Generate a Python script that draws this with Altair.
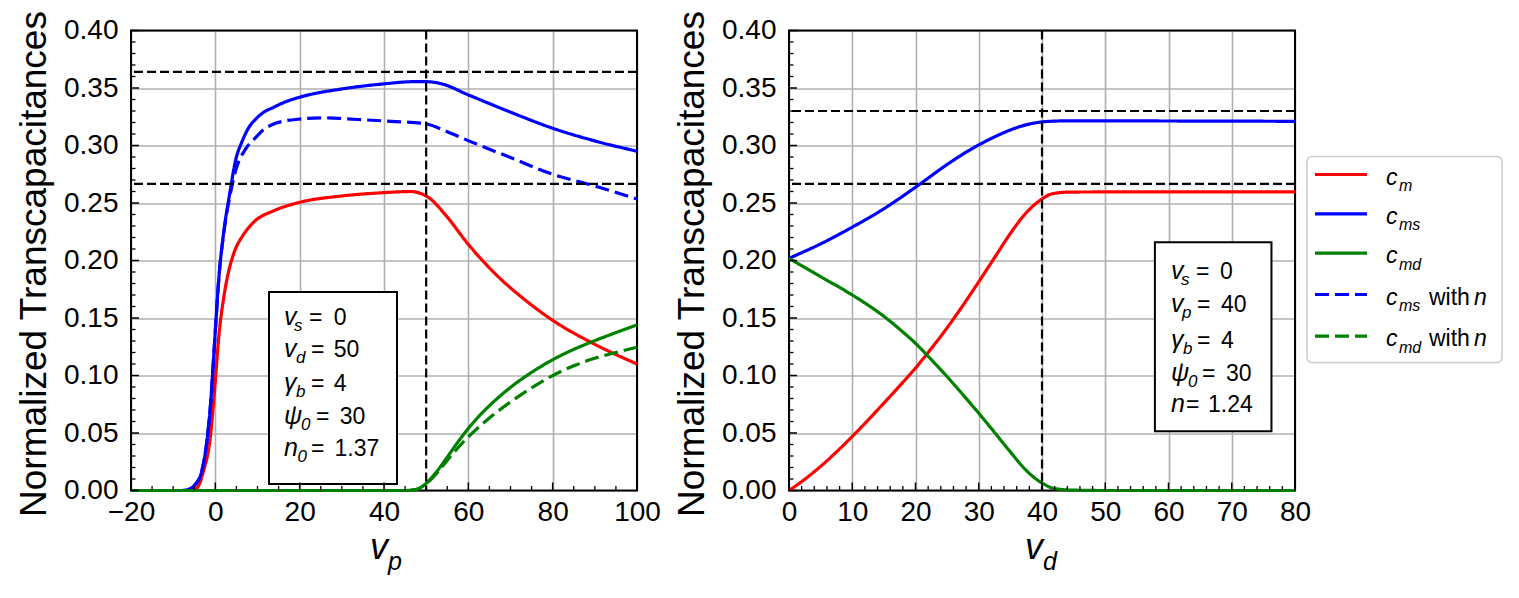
import altair as alt
import pandas as pd

# ---------------- values ----------------
SERIES = ["cm", "cms", "cmd", "cms_n", "cmd_n"]
COLORS = ["#ff0000", "#0000ff", "#008000", "#0000ff", "#008000"]
DASHES = [[1, 0], [1, 0], [1, 0], [14, 6], [14, 6]]

# left panel (x = v_p)
L_cm_x = [-20, -6, -4.4, -2.8, -1.2, 0, 0.8, 2, 3, 4, 5, 6.4, 8, 9.6, 13.7, 20, 29.7, 40, 46.5, 48.1, 50.5, 54.5, 60, 66.5, 73.7, 80, 89.8, 100]
L_cm_y = [0, 0, 0.002, 0.017, 0.046, 0.0955, 0.133, 0.168, 0.188, 0.202, 0.212, 0.221, 0.229, 0.235, 0.243, 0.2506, 0.256, 0.259, 0.260, 0.259, 0.255, 0.240, 0.214, 0.188, 0.165, 0.148, 0.1275, 0.110]
L_cms_x = [-20, -8, -6.4, -4.8, -3.2, -2.0, -1.2, 0, 0.8, 2, 3.4, 4.8, 6.4, 8, 9.6, 11.5, 13.7, 16, 20, 29.7, 40, 47, 50, 53.7, 60, 70, 80, 90, 100]
L_cms_y = [0, 0, 0.001, 0.005, 0.017, 0.043, 0.072, 0.139, 0.183, 0.225, 0.258, 0.287, 0.304, 0.316, 0.323, 0.329, 0.333, 0.337, 0.342, 0.349, 0.3536, 0.3555, 0.3555, 0.3536, 0.344, 0.329, 0.315, 0.304, 0.295]
L_cmd_x = [-20, 45, 47.5, 50, 52.5, 55, 57.5, 60, 62.5, 65, 70, 75, 80, 85, 90, 95, 100]
L_cmd_y = [0, 0, 0.0008, 0.0062, 0.0165, 0.029, 0.042, 0.054, 0.0645, 0.0737, 0.0897, 0.1027, 0.1137, 0.1227, 0.1303, 0.1373, 0.144]
L_cms_n_x = [-20, -8, -6.4, -4.8, -3.2, -2.0, -1.2, 0, 0.8, 2, 3.4, 4.8, 7.2, 9.6, 11.5, 13.7, 16, 20, 25.7, 33.7, 41.7, 49.7, 55, 60.1, 69.7, 80, 89.8, 100]
L_cms_n_y = [0, 0, 0.001, 0.005, 0.017, 0.043, 0.072, 0.139, 0.183, 0.224, 0.255, 0.278, 0.297, 0.307, 0.314, 0.3185, 0.321, 0.323, 0.324, 0.3226, 0.321, 0.319, 0.312, 0.304, 0.290, 0.275, 0.265, 0.2535]
L_cmd_n_x = [-20, 45, 47.5, 50, 52.5, 55, 57.5, 60, 62.5, 65, 70, 75, 80, 85, 90, 95, 100]
L_cmd_n_y = [0, 0, 0.0008, 0.0058, 0.015, 0.0262, 0.037, 0.0467, 0.0552, 0.063, 0.077, 0.0893, 0.0999, 0.1085, 0.115, 0.120, 0.1246]

# right panel (x = v_d)
R_cm_x = [0, 2.5, 5, 7.5, 10, 12.5, 15, 17.5, 20, 22.5, 25, 27.5, 30, 32.5, 35, 37.5, 40, 41.6, 44.4, 50, 60, 70, 80]
R_cm_y = [0, 0.0098, 0.021, 0.0335, 0.047, 0.0612, 0.076, 0.091, 0.1065, 0.1235, 0.1415, 0.161, 0.1815, 0.2025, 0.2235, 0.2415, 0.2535, 0.258, 0.2595, 0.2596, 0.2596, 0.2596, 0.2596]
R_cms_x = [0, 5.2, 10, 15, 20, 25, 27.5, 30, 32.5, 35, 37.5, 40, 42, 45, 50, 60, 70, 80]
R_cms_y = [0.2019, 0.215, 0.229, 0.245, 0.2637, 0.2835, 0.2925, 0.3005, 0.3075, 0.3135, 0.318, 0.3205, 0.3212, 0.3215, 0.3215, 0.3213, 0.3212, 0.321]
R_cmd_x = [0, 5, 10, 12.5, 15, 17.5, 20, 22.5, 25, 27.5, 30, 32.5, 35, 37.5, 40, 42, 45, 50, 80]
R_cmd_y = [0.2019, 0.186, 0.170, 0.1612, 0.1515, 0.1402, 0.128, 0.1138, 0.099, 0.0833, 0.0672, 0.0505, 0.0335, 0.0175, 0.0065, 0.0017, 0.0003, 0, 0]

# reference (dashed black) lines
L_hlines = [0.364, 0.2667]
L_vline = [50]
R_hlines = [0.330, 0.2667]
R_vline = [40]

# tick labels
L_xticks = [-20, 0, 20, 40, 60, 80, 100]
R_xticks = [0, 10, 20, 30, 40, 50, 60, 70, 80]
YTICKS = [0.0, 0.05, 0.10, 0.15, 0.20, 0.25, 0.30, 0.35, 0.40]
L_xminor = [-15, -10, -5, 5, 10, 15, 25, 30, 35, 45, 50, 55, 65, 70, 75, 85, 90, 95]
R_xminor = [2, 4, 6, 8, 12, 14, 16, 18, 22, 24, 26, 28, 32, 34, 36, 38, 42, 44, 46, 48,
            52, 54, 56, 58, 62, 64, 66, 68, 72, 74, 76, 78]
YMINOR = [0.01, 0.02, 0.03, 0.04, 0.06, 0.07, 0.08, 0.09, 0.11, 0.12, 0.13, 0.14,
          0.16, 0.17, 0.18, 0.19, 0.21, 0.22, 0.23, 0.24, 0.26, 0.27, 0.28, 0.29,
          0.31, 0.32, 0.33, 0.34, 0.36, 0.37, 0.38, 0.39]

# text boxes: symbol, subscript, value
L_sym = ["v", "v", "γ", "ψ", "n"]
L_sub = ["s", "d", "b", "0", "0"]
L_val = ["0", "50", "4", "30", "1.37"]
R_sym = ["v", "v", "γ", "ψ", "n"]
R_sub = ["s", "p", "b", "0", ""]
R_val = ["0", "40", "4", "30", "1.24"]

LEG_SYM = ["m", "ms", "md", "ms", "md"]
LEG_WITH = [False, False, False, True, True]

# ---------------- layout / style ----------------
W, H = 506, 460
FONT = "Liberation Sans"
GRID = "#b0b0b0"

# box geometry (data coordinates) and text anchors
L_box = dict(x=12.73, x2=43.08, y=0.00565, y2=0.1726)
R_box = dict(x=57.85, x2=76.28, y=0.0516, y2=0.2159)
L_text_x = 16.28
R_text_x = 60.4
L_rows_y = [0.1443, 0.1163, 0.0867, 0.0580, 0.0298]
R_rows_y = [0.1835, 0.1550, 0.1241, 0.0951, 0.0681]
L_sub_dx = [10, 12, 12, 17, 13.5]
L_eq_dx = [25, 27, 27, 32, 27]
L_val_dx = [49.7, 49.7, 49.7, 55.7, 50.5]
R_sub_dx = [10, 11, 12, 17, 0]
R_eq_dx = [25, 26, 26, 31, 15]
R_val_dx = [49, 50, 50, 55, 37]


def series_df(pairs):
    rows = []
    for name, xs, ys in pairs:
        for a, b in zip(xs, ys):
            rows.append({"x": a, "y": b, "series": name})
    return pd.DataFrame(rows)


one = pd.DataFrame({"k": [0]})


def panel(lines, xdom, xticks, xminor, hlines, vline, box, tx, rows_y,
          sym, sub, val, sub_dx, eq_dx, val_dx, xt_sym, xt_sub, xt_x, extra=None):
    xscale = alt.Scale(domain=xdom, nice=False, zero=False)
    yscale = alt.Scale(domain=[0, 0.4], nice=False, zero=False)
    xaxis = alt.Axis(values=xticks, format="d", title=None, grid=True, gridColor=GRID,
                     gridWidth=1.6, gridOpacity=1, ticks=False, tickSize=0, domain=False,
                     labelFontSize=28, labelFont=FONT, labelColor="black", labelPadding=8,
                     labelFlush=False, labelOverlap=False)
    yaxis = alt.Axis(values=YTICKS, format=".2f", title="Normalized Transcapacitances",
                     titleFontSize=37, titleFont=FONT, titleFontWeight="normal",
                     titleColor="black", titlePadding=10, titleY=H / 2 + 3, grid=True,
                     gridColor=GRID, gridWidth=1.6, gridOpacity=1, ticks=False, tickSize=0,
                     domain=False, labelFontSize=28, labelFont=FONT, labelColor="black",
                     labelPadding=13, labelFlush=False, labelOverlap=False)

    layers = []
    # white text box
    layers.append(alt.Chart(pd.DataFrame([box])).mark_rect(
        fill="white", stroke="black", strokeWidth=2).encode(
        x=alt.X("x:Q", scale=xscale, axis=xaxis),
        y=alt.Y("y:Q", scale=yscale, axis=yaxis),
        x2="x2:Q", y2="y2:Q"))
    # frame
    layers.append(alt.Chart(one).mark_rect(fill="white", fillOpacity=0, stroke="black",
                                           strokeWidth=2).encode(
        x=alt.value(0), x2=alt.value(W), y=alt.value(0), y2=alt.value(H)))
    # curves
    layers.append(alt.Chart(lines).mark_line(strokeWidth=3.2, interpolate="monotone").encode(
        x=alt.X("x:Q", scale=xscale),
        y=alt.Y("y:Q", scale=yscale),
        color=alt.Color("series:N", scale=alt.Scale(domain=SERIES, range=COLORS), legend=None),
        strokeDash=alt.StrokeDash("series:N", scale=alt.Scale(domain=SERIES, range=DASHES),
                                  legend=None)))
    # dashed black guide lines
    layers.append(alt.Chart(pd.DataFrame({"y": hlines})).mark_rule(
        color="black", strokeWidth=2.2, strokeDash=[9, 4]).encode(y="y:Q"))
    layers.append(alt.Chart(pd.DataFrame({"x": vline})).mark_rule(
        color="black", strokeWidth=2.2, strokeDash=[9, 4]).encode(x="x:Q"))
    # inward ticks
    layers.append(alt.Chart(pd.DataFrame({"x": xticks})).mark_rule(
        color="black", strokeWidth=1.5).encode(x="x:Q", y=alt.value(H), y2=alt.value(H - 8)))
    layers.append(alt.Chart(pd.DataFrame({"x": xminor})).mark_rule(
        color="black", strokeWidth=1.3).encode(x="x:Q", y=alt.value(H), y2=alt.value(H - 4.5)))
    layers.append(alt.Chart(pd.DataFrame({"y": YTICKS})).mark_rule(
        color="black", strokeWidth=1.5).encode(y="y:Q", x=alt.value(0), x2=alt.value(8)))
    layers.append(alt.Chart(pd.DataFrame({"y": YMINOR})).mark_rule(
        color="black", strokeWidth=1.3).encode(y="y:Q", x=alt.value(0), x2=alt.value(4.5)))
    # box text
    for i in range(len(sym)):
        d = pd.DataFrame({"x": [tx], "y": [rows_y[i]]})
        base = dict(align="left", baseline="alphabetic", font=FONT, color="black")
        layers.append(alt.Chart(d).mark_text(fontSize=25, fontStyle="italic", **base).encode(
            x="x:Q", y="y:Q", text=alt.value(sym[i])))
        if sub[i]:
            layers.append(alt.Chart(d).mark_text(fontSize=17, fontStyle="italic",
                                                 dx=sub_dx[i], dy=6, **base).encode(
                x="x:Q", y="y:Q", text=alt.value(sub[i])))
        layers.append(alt.Chart(d).mark_text(fontSize=23, dx=eq_dx[i], **base).encode(
            x="x:Q", y="y:Q", text=alt.value("=")))
        layers.append(alt.Chart(d).mark_text(fontSize=23, dx=val_dx[i], **base).encode(
            x="x:Q", y="y:Q", text=alt.value(val[i])))
    # x-axis title (italic symbol with subscript)
    layers.append(alt.Chart(one).mark_text(align="left", baseline="alphabetic", font=FONT,
                                           fontSize=36, fontStyle="italic", color="black").encode(
        x=alt.value(xt_x), y=alt.value(H + 68), text=alt.value(xt_sym)))
    layers.append(alt.Chart(one).mark_text(align="left", baseline="alphabetic", font=FONT,
                                           fontSize=25, fontStyle="italic", color="black").encode(
        x=alt.value(xt_x + 18), y=alt.value(H + 79), text=alt.value(xt_sub)))
    if extra:
        layers.extend(extra)
    return alt.layer(*layers).properties(width=W, height=H)


# ---------------- legend (drawn beside the right panel) ----------------
LEG_X0, LEG_Y0 = 518, 126
leg_rows_y = [144, 183.3, 222.7, 264, 305.7]
legend = [alt.Chart(one).mark_rect(fill="white", fillOpacity=0.8, stroke="#cccccc",
                                   strokeWidth=1.5, cornerRadius=5).encode(
    x=alt.value(LEG_X0), x2=alt.value(713), y=alt.value(LEG_Y0), y2=alt.value(332))]
for i, name in enumerate(SERIES):
    yy = leg_rows_y[i]
    legend.append(alt.Chart(one).mark_rule(color=COLORS[i], strokeWidth=3.2,
                                           strokeDash=DASHES[i]).encode(
        x=alt.value(526), x2=alt.value(578), y=alt.value(yy)))
    base = dict(align="left", baseline="alphabetic", font=FONT, color="black")
    legend.append(alt.Chart(one).mark_text(fontSize=23, fontStyle="italic", **base).encode(
        x=alt.value(597), y=alt.value(yy + 10), text=alt.value("c")))
    legend.append(alt.Chart(one).mark_text(fontSize=16, fontStyle="italic", **base).encode(
        x=alt.value(610), y=alt.value(yy + 16.5), text=alt.value(LEG_SYM[i])))
    if LEG_WITH[i]:
        legend.append(alt.Chart(one).mark_text(fontSize=23, **base).encode(
            x=alt.value(640), y=alt.value(yy + 10), text=alt.value("with")))
        legend.append(alt.Chart(one).mark_text(fontSize=23, fontStyle="italic", **base).encode(
            x=alt.value(685), y=alt.value(yy + 10), text=alt.value("n")))

left_lines = series_df([("cm", L_cm_x, L_cm_y), ("cms", L_cms_x, L_cms_y),
                        ("cmd", L_cmd_x, L_cmd_y), ("cms_n", L_cms_n_x, L_cms_n_y),
                        ("cmd_n", L_cmd_n_x, L_cmd_n_y)])
right_lines = series_df([("cm", R_cm_x, R_cm_y), ("cms", R_cms_x, R_cms_y),
                         ("cmd", R_cmd_x, R_cmd_y)])

left = panel(left_lines, [-20, 100], L_xticks, L_xminor, L_hlines, L_vline, L_box,
             L_text_x, L_rows_y, L_sym, L_sub, L_val, L_sub_dx, L_eq_dx, L_val_dx,
             "v", "p", 239)
right = panel(right_lines, [0, 80], R_xticks, R_xminor, R_hlines, R_vline, R_box,
              R_text_x, R_rows_y, R_sym, R_sub, R_val, R_sub_dx, R_eq_dx, R_val_dx,
              "v", "d", 236, extra=legend)

chart = alt.hconcat(left, right, spacing=152, bounds="flush").properties(
    padding={"left": 7, "top": 1.5, "right": 5, "bottom": 5}
).configure_view(stroke="transparent").configure(font=FONT)

chart.save("out.html", embed_options={"renderer": "svg", "actions": False})
